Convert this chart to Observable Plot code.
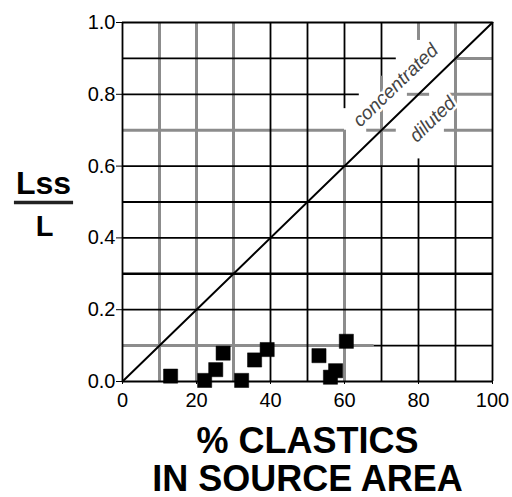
<!DOCTYPE html>
<html><head><meta charset="utf-8">
<script src="https://cdn.jsdelivr.net/npm/d3@7"></script>
<script src="https://cdn.jsdelivr.net/npm/@observablehq/plot@0.6"></script>
<style>body{margin:0;background:#fff} svg{display:block}</style>
</head><body><div id="chart"></div>
<script>
// Data
const clastics = [13, 22.2, 25.2, 27.2, 32.2, 35.7, 39.1, 53.1, 56.2, 57.6, 60.5];
const ratio    = [0.015, 0.003, 0.033, 0.079, 0.003, 0.06, 0.089, 0.072, 0.012, 0.03, 0.112];
const xTicks = [0, 20, 40, 60, 80, 100];
const yTicks = [0, 0.2, 0.4, 0.6, 0.8, 1.0];
const diagonal = [{x: 0, y: 0}, {x: 100, y: 1}];
const zoneLabels = [
  {label: "concentrated", x: 73.8, y: 0.825},
  {label: "diluted", x: 83.8, y: 0.73}
];
// grid segments (value, from, to)
const blackV = [[0,0,1],[40,0,1],[50,0,1],[60,0.76,1],[70,0.85,1],[70,0,0.6],[80,0,0.62],[90,0,0.6],[100,0,1]];
const grayV  = [[10,0,1],[20,0,1],[30,0,1],[60,0,0.7],[70,0.6,0.85],[80,0.95,1],[90,0.6,1]];
const blackH = [[1,0,100],[0.9,0,74],[0.8,0,64],[0.6,0,100],[0.5,0,100],[0.4,0,100],[0.2,0,100],[0.1,68,100],[0,0,100]];
const thickH = [[0.3,0,100]];
const grayH  = [[0.9,90,100],[0.8,88,100],[0.8,77,83],[0.7,0,60],[0.7,66,74],[0.7,87,100],[0.1,0,68]];
const xTitle = ["% CLASTICS", "IN SOURCE AREA"];
const yTitle = ["Lss", "L"];

const pts = clastics.map((c, i) => ({c, r: ratio[i]}));
const vSeg = a => a.map(([x, y1, y2]) => ({x, y1, y2}));
const hSeg = a => a.map(([y, x1, x2]) => ({y, x1, x2}));

const chart = Plot.plot({
  width: 512, height: 497,
  marginLeft: 122, marginRight: 20, marginTop: 22, marginBottom: 116,
  style: {fontFamily: "'Liberation Sans', Arial, sans-serif", background: "#fff", color: "#000"},
  x: {domain: [0, 100]},
  y: {domain: [0, 1]},
  marks: [
    Plot.ruleX(vSeg(grayV), {x: "x", y1: "y1", y2: "y2", stroke: "#8c8c8c", strokeWidth: 3}),
    Plot.ruleY(hSeg(grayH), {y: "y", x1: "x1", x2: "x2", stroke: "#8c8c8c", strokeWidth: 3}),
    Plot.ruleX(vSeg(blackV), {x: "x", y1: "y1", y2: "y2", stroke: "#000", strokeWidth: 1.8}),
    Plot.ruleY(hSeg(blackH), {y: "y", x1: "x1", x2: "x2", stroke: "#000", strokeWidth: 1.8}),
    Plot.ruleY(hSeg(thickH), {y: "y", x1: "x1", x2: "x2", stroke: "#000", strokeWidth: 2.6}),
    Plot.line(diagonal, {x: "x", y: "y", stroke: "#000", strokeWidth: 2}),
    Plot.text(zoneLabels, {x: "x", y: "y", text: "label", rotate: -44, fontSize: 19, fontStyle: "italic",
      fill: "#444", stroke: "#fff", strokeWidth: 5}),
    Plot.dot(pts, {x: "c", y: "r", symbol: "square", r: 8, fill: "#000", stroke: "#000", strokeWidth: 0.5}),
    Plot.axisY({ticks: yTicks, tickFormat: d3.format(".1f"), tickSize: 6, tickPadding: 1, fontSize: 20, label: null}),
    Plot.axisX({ticks: xTicks, tickSize: 3, tickPadding: 8, fontSize: 20, label: null}),
    Plot.text([xTitle[0]], {frameAnchor: "bottom", lineAnchor: "bottom", dy: 71, fontSize: 36, fontWeight: "bold", text: d => d}),
    Plot.text([xTitle[1]], {frameAnchor: "bottom", lineAnchor: "bottom", dy: 109, fontSize: 36, fontWeight: "bold", text: d => d}),
    Plot.text([yTitle[0]], {frameAnchor: "left", textAnchor: "middle", lineAnchor: "bottom", dx: -79, dy: -8, fontSize: 32, fontWeight: "bold", text: d => d, className: "frac-num"}),
    Plot.text([yTitle[1]], {frameAnchor: "left", textAnchor: "middle", lineAnchor: "bottom", dx: -78, dy: 34, fontSize: 29, fontWeight: "bold", text: d => d})
  ]
});
document.getElementById("chart").appendChild(chart);
// fraction bar under "Lss"
const num = chart.querySelector(".frac-num text");
if (num) {
  const s = chart.getBoundingClientRect();
  const b = num.getBoundingClientRect();
  const yb = b.bottom - s.top + 1.5;
  d3.select(chart).append("line")
    .attr("x1", b.left - s.left - 2).attr("x2", b.right - s.left + 2)
    .attr("y1", yb).attr("y2", yb)
    .attr("stroke", "#222").attr("stroke-width", 3.5);
}
</script></body></html>
